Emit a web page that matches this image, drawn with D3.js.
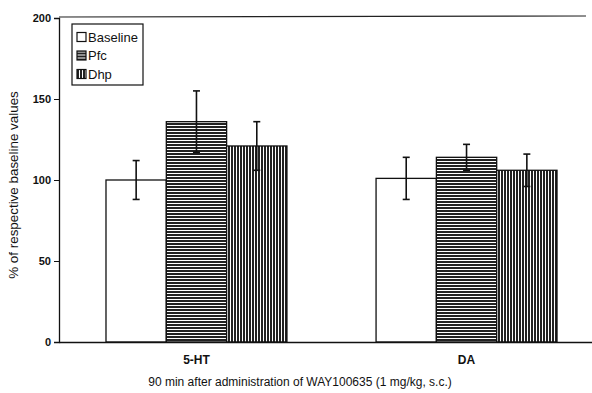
<!DOCTYPE html>
<html>
<head>
<meta charset="utf-8">
<script src="https://cdn.jsdelivr.net/npm/d3@7"></script>
<style>
  body { margin: 0; background: #fff; }
  text { font-family: "Liberation Sans", Arial, sans-serif; fill: #111; }
</style>
</head>
<body>
<svg width="592" height="393"></svg>
<script>
// data
var categories = ['5-HT', 'DA']
var seriesNames = ['Baseline', 'Pfc', 'Dhp']
var baseline = [100, 101]
var pfc = [136, 114]
var dhp = [121, 106]
var baselineErr = [12, 13]
var pfcErr = [19, 8]
var dhpErr = [15, 10]
var yTicks = [0, 50, 100, 150, 200]

var values = [baseline, pfc, dhp]
var errors = [baselineErr, pfcErr, dhpErr]

var width = 592, height = 393
var margin = {top: 18, right: -12, bottom: 51, left: 59}

var svg = d3.select('svg')

var defs = svg.append('defs')
var hp = defs.append('pattern').attr('id', 'horiz')
  .attr('patternUnits', 'userSpaceOnUse').attr('width', 6).attr('height', 3)
hp.append('rect').attr('width', 6).attr('height', 3).attr('fill', '#fff')
hp.append('rect').attr('width', 6).attr('height', 2).attr('fill', '#222')
var vp = defs.append('pattern').attr('id', 'vert')
  .attr('patternUnits', 'userSpaceOnUse').attr('width', 3).attr('height', 6)
vp.append('rect').attr('width', 3).attr('height', 6).attr('fill', '#fff')
vp.append('rect').attr('width', 2).attr('height', 6).attr('fill', '#222')

var fills = ['#fff', 'url(#horiz)', 'url(#vert)']

var x0 = d3.scaleBand()
  .domain(categories)
  .range([margin.left, width - margin.right])
  .paddingInner(0.33)
  .paddingOuter(0.174)

var x1 = d3.scaleBand()
  .domain(seriesNames)
  .range([0, x0.bandwidth()])

var y = d3.scaleLinear()
  .domain([0, 200])
  .range([height - margin.bottom, margin.top])

// top frame line
svg.append('line')
  .attr('x1', margin.left).attr('x2', 586)
  .attr('y1', y(200) - 1).attr('y2', y(200) - 2)
  .attr('stroke', '#222').attr('stroke-width', 1.2)

var rows = []
categories.forEach(function(c, i) {
  seriesNames.forEach(function(s, j) {
    rows.push({cat: c, series: s, j: j, v: values[j][i], e: errors[j][i]})
  })
})

svg.selectAll('rect.bar')
  .data(rows)
  .enter()
  .append('rect')
  .attr('class', 'bar')
  .attr('x', function(d) { return x0(d.cat) + x1(d.series) })
  .attr('width', x1.bandwidth())
  .attr('y', function(d) { return y(d.v) })
  .attr('height', function(d) { return y(0) - y(d.v) })
  .attr('fill', function(d) { return fills[d.j] })
  .attr('stroke', '#111')
  .attr('stroke-width', 1.3)

// error bars
var eb = svg.selectAll('g.err')
  .data(rows)
  .enter()
  .append('g')
  .attr('class', 'err')
  .attr('stroke', '#111')
  .attr('stroke-width', 1.6)
eb.append('line')
  .attr('x1', function(d) { return x0(d.cat) + x1(d.series) + x1.bandwidth() / 2 })
  .attr('x2', function(d) { return x0(d.cat) + x1(d.series) + x1.bandwidth() / 2 })
  .attr('y1', function(d) { return y(d.v + d.e) })
  .attr('y2', function(d) { return y(d.v - d.e) })
eb.selectAll('line.cap')
  .data(function(d) { return [d.v + d.e, d.v - d.e].map(function(v) { return {d: d, v: v} }) })
  .enter()
  .append('line')
  .attr('class', 'cap')
  .attr('x1', function(c) { return x0(c.d.cat) + x1(c.d.series) + x1.bandwidth() / 2 - 3.5 })
  .attr('x2', function(c) { return x0(c.d.cat) + x1(c.d.series) + x1.bandwidth() / 2 + 3.5 })
  .attr('y1', function(c) { return y(c.v) })
  .attr('y2', function(c) { return y(c.v) })

// axes
var yAxis = svg.append('g')
  .attr('transform', 'translate(' + margin.left + ',0)')
  .call(d3.axisLeft(y).tickValues(yTicks).tickSize(5).tickPadding(3))
yAxis.select('.domain').attr('stroke', '#111').attr('stroke-width', 1.3)
yAxis.selectAll('.tick line').attr('stroke', '#111')
yAxis.selectAll('.tick text')
  .style('font-family', '"Liberation Sans", Arial, sans-serif')
  .style('font-size', '11px').style('font-weight', 'bold').attr('fill', '#111')

var xAxis = svg.append('g')
  .attr('transform', 'translate(0,' + y(0) + ')')
  .call(d3.axisBottom(x0).tickSize(0).tickPadding(13))
xAxis.select('.domain').attr('stroke', '#111').attr('stroke-width', 1.3)
xAxis.selectAll('.tick text')
  .style('font-family', '"Liberation Sans", Arial, sans-serif')
  .style('font-size', '12px').style('font-weight', 'bold').attr('fill', '#111')

svg.append('text')
  .attr('transform', 'translate(18,' + ((y(0) + y(200)) / 2 + 5) + ') rotate(-90)')
  .attr('text-anchor', 'middle')
  .style('font-size', '13.4px')
  .text('% of respective baseline values')

svg.append('text')
  .attr('x', 300).attr('y', 386)
  .attr('text-anchor', 'middle')
  .style('font-size', '12px')
  .text('90 min after administration of WAY100635 (1 mg/kg, s.c.)')

// legend
var legend = svg.append('g').attr('transform', 'translate(72,24)')
legend.append('rect')
  .attr('width', 71).attr('height', 61)
  .attr('fill', '#fff').attr('stroke', '#111').attr('stroke-width', 1.2)
var item = legend.selectAll('g.item')
  .data(seriesNames)
  .enter()
  .append('g')
  .attr('transform', function(d, i) { return 'translate(5,' + (13 + i * 18.5) + ')' })
item.append('rect')
  .attr('x', 0).attr('y', -4.5).attr('width', 9).attr('height', 9)
  .attr('fill', function(d, i) { return fills[i] })
  .attr('stroke', '#111').attr('stroke-width', 1.2)
item.append('text')
  .attr('x', 11).attr('dy', '0.36em')
  .style('font-size', '13px')
  .text(function(d) { return d })
</script>
</body>
</html>
